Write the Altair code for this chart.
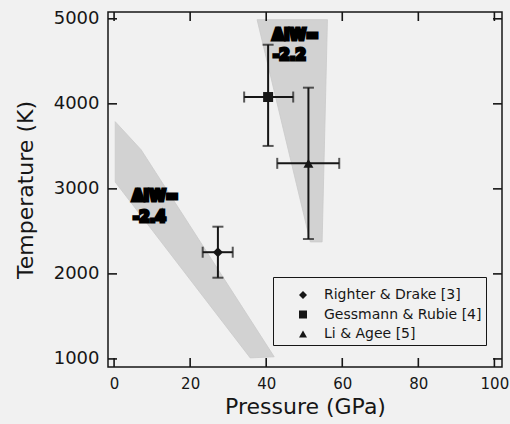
import altair as alt
import pandas as pd

# Metal-silicate equilibration conditions reported by three studies
studies = ["Righter & Drake [3]", "Gessmann & Rubie [4]", "Li & Agee [5]"]
shapes = ["diamond", "square", "triangle-up"]
pressure = [27.3, 40.5, 51.1]
p_low = [23.3, 34.2, 42.9]
p_high = [31.2, 47.1, 59.2]
temperature = [2255, 4080, 3300]
t_low = [1955, 3505, 2410]
t_high = [2555, 4695, 4190]

# Shaded P-T fields (polygon vertices, in drawing order)
band_name = ["low", "low", "low", "low", "low", "high", "high", "high", "high"]
band_vertex = [0, 1, 2, 3, 4, 0, 1, 2, 3]
band_p = [0.3, 7.1, 42.1, 35.8, 0.3, 37.6, 56.1, 54.7, 51.6]
band_t = [3790, 3460, 1025, 1012, 3080, 4990, 4990, 2376, 2376]

# Oxygen fugacity annotations
note_text = ["ΔIW=", "-2.4", "ΔIW=", "-2.2"]
note_p = [4.7, 5.0, 41.6, 41.8]
note_t = [2918, 2671, 4812, 4576]

x_ticks = [0, 20, 40, 60, 80, 100]
y_ticks = [1000, 2000, 3000, 4000, 5000]

X_MIN, X_MAX = -1.6, 102
Y_MIN, Y_MAX = 905, 5080

pts = pd.DataFrame({
    "study": studies, "p": pressure, "p_lo": p_low, "p_hi": p_high,
    "t": temperature, "t_lo": t_low, "t_hi": t_high,
})
bands = pd.DataFrame({"band": band_name, "i": band_vertex, "p": band_p, "t": band_t})
notes = pd.DataFrame({"label": note_text, "p": note_p, "t": note_t})
xt = pd.DataFrame({"v": x_ticks})
yt = pd.DataFrame({"v": y_ticks})

FONT = "DejaVu Sans"
INK = "#161616"
xscale = alt.Scale(domain=[X_MIN, X_MAX], nice=False, zero=False)
yscale = alt.Scale(domain=[Y_MIN, Y_MAX], nice=False, zero=False)

x_main = alt.Axis(values=x_ticks, format="d", ticks=False, labelPadding=9,
                  labelFont=FONT, labelFontSize=15, labelColor=INK,
                  title="Pressure (GPa)", titleFont=FONT, titleFontSize=22,
                  titleFontWeight="normal", titleColor=INK, titlePadding=5,
                  domain=False, grid=False, labelFlush=False)
y_main = alt.Axis(values=y_ticks, format="d", ticks=False, labelPadding=9,
                  labelFont=FONT, labelFontSize=18, labelColor=INK,
                  title="Temperature (K)", titleFont=FONT, titleFontSize=22,
                  titleFontWeight="normal", titleColor=INK, titlePadding=16,
                  domain=False, grid=False, labelFlush=False)

field = alt.Chart(bands).mark_line(
    interpolate="linear-closed", fill="#d2d2d2", stroke="#cacaca", strokeWidth=0.8
).encode(
    x=alt.X("p:Q", scale=xscale, axis=x_main),
    y=alt.Y("t:Q", scale=yscale, axis=y_main),
    detail="band:N",
    order="i:Q",
)

# Inward-pointing ticks on all four sides of the frame
TICK = dict(color=INK, thickness=1.6, size=9, opacity=1)
tick_bottom = alt.Chart(xt).mark_tick(orient="vertical", yOffset=-4.5, **TICK).encode(
    x=alt.X("v:Q", scale=xscale, axis=None),
    y=alt.YDatum(Y_MIN, scale=yscale, axis=None))
tick_top = alt.Chart(xt).mark_tick(orient="vertical", yOffset=4.5, **TICK).encode(
    x=alt.X("v:Q", scale=xscale, axis=None),
    y=alt.YDatum(Y_MAX, scale=yscale, axis=None))
tick_left = alt.Chart(yt).mark_tick(orient="horizontal", xOffset=4.5, **TICK).encode(
    y=alt.Y("v:Q", scale=yscale, axis=None),
    x=alt.XDatum(X_MIN, scale=xscale, axis=None))
tick_right = alt.Chart(yt).mark_tick(orient="horizontal", xOffset=-4.5, **TICK).encode(
    y=alt.Y("v:Q", scale=yscale, axis=None),
    x=alt.XDatum(X_MAX, scale=xscale, axis=None))

v_err = alt.Chart(pts).mark_errorbar(ticks=True, size=11, thickness=2, color=INK).encode(
    x=alt.X("p:Q", scale=xscale, axis=None),
    y=alt.Y("t_lo:Q", scale=yscale, axis=None),
    y2="t_hi:Q",
)

h_err = alt.Chart(pts).mark_errorbar(ticks=True, size=11, thickness=2, color=INK).encode(
    x=alt.X("p_lo:Q", scale=xscale, axis=None),
    x2="p_hi:Q",
    y=alt.Y("t:Q", scale=yscale, axis=None),
)

markers = alt.Chart(pts).mark_point(filled=True, color=INK, opacity=1, size=100).encode(
    x=alt.X("p:Q", scale=xscale, axis=None),
    y=alt.Y("t:Q", scale=yscale, axis=None),
    shape=alt.Shape(
        "study:N",
        scale=alt.Scale(domain=studies, range=shapes),
        legend=alt.Legend(
            title=" ", titleFontSize=1, titlePadding=6,
            orient="none", legendX=165, legendY=265,
            strokeColor=INK, fillColor="#f1f1f1", padding=4,
            labelFont=FONT, labelFontSize=14, labelColor=INK,
            symbolSize=64, symbolFillColor=INK, symbolStrokeWidth=0,
            symbolOffset=19, labelOffset=14, rowPadding=5.5,
        ),
    ),
)

annot = alt.Chart(notes).mark_text(
    align="left", baseline="middle", font=FONT, fontSize=15, fontWeight="bold",
    color="black", stroke="black", strokeWidth=3,
).encode(
    x=alt.X("p:Q", scale=xscale, axis=None),
    y=alt.Y("t:Q", scale=yscale, axis=None),
    text="label:N",
)

chart = alt.layer(
    field, tick_bottom, tick_top, tick_left, tick_right, v_err, h_err, markers, annot
).resolve_axis(
    x="independent", y="independent"
).properties(
    width=394, height=355,
    autosize="none",
    padding={"left": 108, "top": 12, "right": 8, "bottom": 57},
    background="#f1f1f1",
).configure_view(stroke=INK, strokeWidth=1.5)

chart.save("out.html", embed_options={"renderer": "svg", "actions": False})
